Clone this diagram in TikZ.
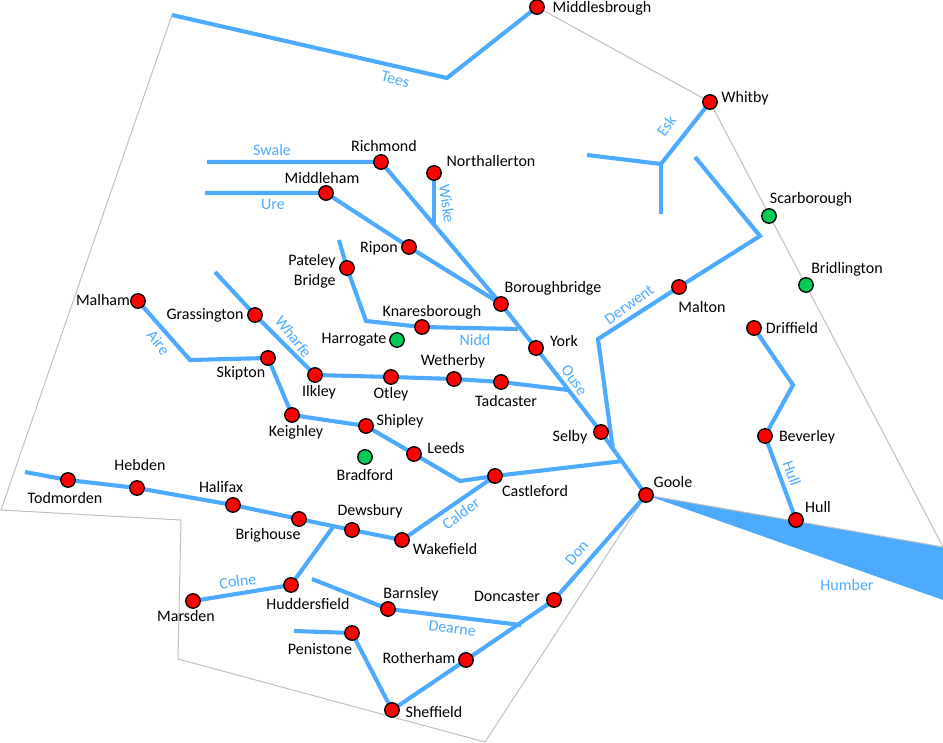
\documentclass[tikz,border=0pt]{standalone}
\usepackage{fontspec}
\setmainfont{Carlito}
\usetikzlibrary{backgrounds}
\definecolor{riverblue}{RGB}{77,171,255}
\definecolor{towngreen}{RGB}{0,204,85}
\tikzset{
  town/.style={circle,draw=black,line width=1.3pt,fill=red,inner sep=0pt,minimum size=14.5pt},
  spa/.style={town,fill=towngreen},
  townlabel/.style={inner sep=0pt,yshift=-2pt,text height=10pt,text depth=3pt,font=\fontsize{16}{20}\selectfont,text=black},
  riverlabel/.style={inner sep=0pt,text height=10pt,text depth=3pt,font=\fontsize{16}{19}\selectfont,text=riverblue},
  river/.style={draw=riverblue,line width=4.1pt,line join=miter},
  border/.style={draw=black!25,line width=1pt}
}
\begin{document}
\begin{tikzpicture}[x=1pt,y=-1pt]
  \useasboundingbox (0,0) rectangle (943,743);

  % towns, with their labels
  \foreach \nm/\x/\y/\lx/\ly in {Middlesbrough/537/7/602/7,
                                 Whitby/710/102/745/97,
                                 Richmond/381/162/384/146,
                                 Northallerton/434/173/491/161,
                                 Middleham/326/193/322/178,
                                 Ripon/409/247/379/247,
                                 Malton/679/287/702/307,
                                 Malham/138/301/103/300,
                                 Boroughbridge/501/304/553/287,
                                 Grassington/255/315/205/314,
                                 Driffield/754/328/792/328,
                                 Knaresborough/422/327/432/311,
                                 York/536/348/564/341,
                                 Skipton/268/358/241/372,
                                 Ilkley/315/375/319/391,
                                 Otley/391/377/391/393,
                                 Wetherby/454/379/453/360,
                                 Tadcaster/501/382/506/401,
                                 Keighley/292/415/296/431,
                                 Shipley/366/426/400/420,
                                 Selby/601/432/570/436,
                                 Beverley/765/436/807/436,
                                 Leeds/414/454/446/448,
                                 Castleford/495/476/535/491,
                                 Todmorden/68/480/65/498,
                                 Hebden/137/488/140/465,
                                 Halifax/233/505/221/487,
                                 Goole/646/495/673/482,
                                 Hull/796/520/818/507,
                                 Brighouse/299/519/268/534,
                                 Dewsbury/352/530/370/510,
                                 Wakefield/402/540/445/549,
                                 Huddersfield/291/585/308/604,
                                 Marsden/193/601/186/616,
                                 Barnsley/388/609/411/593,
                                 Doncaster/554/600/507/596,
                                 Penistone/352/633/320/649,
                                 Rotherham/466/660/419/658,
                                 Sheffield/392/710/434/712}
  {\node[town] (\nm) at (\x,\y) {};
   \node[townlabel] (lbl-\nm) at (\lx,\ly) {\nm};
  };

  \foreach \nm/\x/\y/\lx/\ly in {Scarborough/769/216/811/198,
                                 Bridlington/806/285/847/268,
                                 Harrogate/397/340/354/338,
                                 Bradford/365/457/365/475}
  {\node[spa] (\nm) at (\x,\y) {};
   \node[townlabel] (lbl-\nm) at (\lx,\ly) {\nm};
  };

  \node[town] (Pateley) at (347,268) {};
  \node[townlabel,align=right,text height=,text depth=] (lbl-Pateley) at (312,269) {Pateley\\Bridge};

  % river names
  \foreach \str/\x/\y/\rot in {Tees/395/81/-14,
                               Swale/272/152/0,
                               Ure/273/206/0,
                               Wiske/445/204/-82,
                               Esk/668/127/55,
                               Derwent/630/306/36,
                               Wharfe/292/338/-52,
                               Aire/157/344/-52,
                               Nidd/475/342/0,
                               Ouse/573/381/-55,
                               Calder/462/515/36,
                               Colne/238/583/8,
                               Dearne/452/630/-8,
                               Don/578/554/50,
                               Hull/790/474/-70,
                               Humber/847/587/0}
  {\node[riverlabel,rotate=\rot] (riv-\str) at (\x,\y) {\str};
  };

  % free ends and bends
  \coordinate (teesA) at (172,15);
  \coordinate (teesB) at (447,78);
  \coordinate (eskA) at (587,155);
  \coordinate (eskB) at (661,164);
  \coordinate (eskC) at (661,214);
  \coordinate (derwentA) at (695,157);
  \coordinate (derwentB) at (760,236);
  \coordinate (derwentC) at (598,339);
  \coordinate (derwentD) at (613,450);
  \coordinate (swaleA) at (207,162);
  \coordinate (ureA) at (205,193);
  \coordinate (wiskeA) at (434,225);
  \coordinate (niddA) at (339,240);
  \coordinate (niddB) at (366,321);
  \coordinate (niddC) at (518,329);
  \coordinate (wharfeA) at (215,272);
  \coordinate (wharfeB) at (568,390);
  \coordinate (aireA) at (190,360);
  \coordinate (aireB) at (460,481);
  \coordinate (aireC) at (623,461);
  \coordinate (calderA) at (25,472);
  \coordinate (colneA) at (333,527);
  \coordinate (dearneA) at (312,579);
  \coordinate (dearneB) at (521,625);
  \coordinate (donA) at (294,631);
  \coordinate (hullA) at (793,385);
  \coordinate (cornerA) at (1,510);
  \coordinate (cornerB) at (181,520);
  \coordinate (cornerC) at (178,659);
  \coordinate (cornerD) at (485,742);
  \coordinate (cornerE) at (943,547);
  \coordinate (cornerF) at (943,600);

  \begin{scope}[on background layer]
    \fill[riverblue] (Goole.center) -- (cornerE) -- (cornerF) -- cycle;
    \draw[border] (teesA) -- (cornerA) -- (cornerB) -- (cornerC) -- (cornerD)
      -- (Goole.center) -- (cornerE) -- (Whitby.center) -- (Middlesbrough.center);

    \draw[river] (teesA) -- (teesB) -- (Middlesbrough.center);
    \draw[river] (eskA) -- (eskB) -- (Whitby.center);
    \draw[river] (eskC) -- (eskB);
    \draw[river] (derwentA) -- (derwentB) -- (Malton.center) -- (derwentC) -- (derwentD);
    \draw[river] (swaleA) -- (Richmond.center) -- (Boroughbridge.center)
      -- (York.center) -- (Selby.center) -- (Goole.center);
    \draw[river] (ureA) -- (Middleham.center) -- (Ripon.center) -- (Boroughbridge.center);
    \draw[river] (Northallerton.center) -- (wiskeA);
    \draw[river] (niddA) -- (Pateley.center) -- (niddB) -- (Knaresborough.center) -- (niddC);
    \draw[river] (wharfeA) -- (Grassington.center) -- (Ilkley.center) -- (Otley.center)
      -- (Wetherby.center) -- (Tadcaster.center) -- (wharfeB);
    \draw[river] (Malham.center) -- (aireA) -- (Skipton.center) -- (Keighley.center)
      -- (Shipley.center) -- (Leeds.center) -- (aireB) -- (Castleford.center) -- (aireC);
    \draw[river] (calderA) -- (Todmorden.center) -- (Hebden.center) -- (Halifax.center)
      -- (Brighouse.center) -- (Dewsbury.center) -- (Wakefield.center) -- (Castleford.center);
    \draw[river] (Marsden.center) -- (Huddersfield.center) -- (colneA);
    \draw[river] (dearneA) -- (Barnsley.center) -- (dearneB);
    \draw[river] (donA) -- (Penistone.center) -- (Sheffield.center) -- (Rotherham.center)
      -- (Doncaster.center) -- (Goole.center);
    \draw[river] (Driffield.center) -- (hullA) -- (Beverley.center) -- (Hull.center);
  \end{scope}
\end{tikzpicture}
\end{document}
